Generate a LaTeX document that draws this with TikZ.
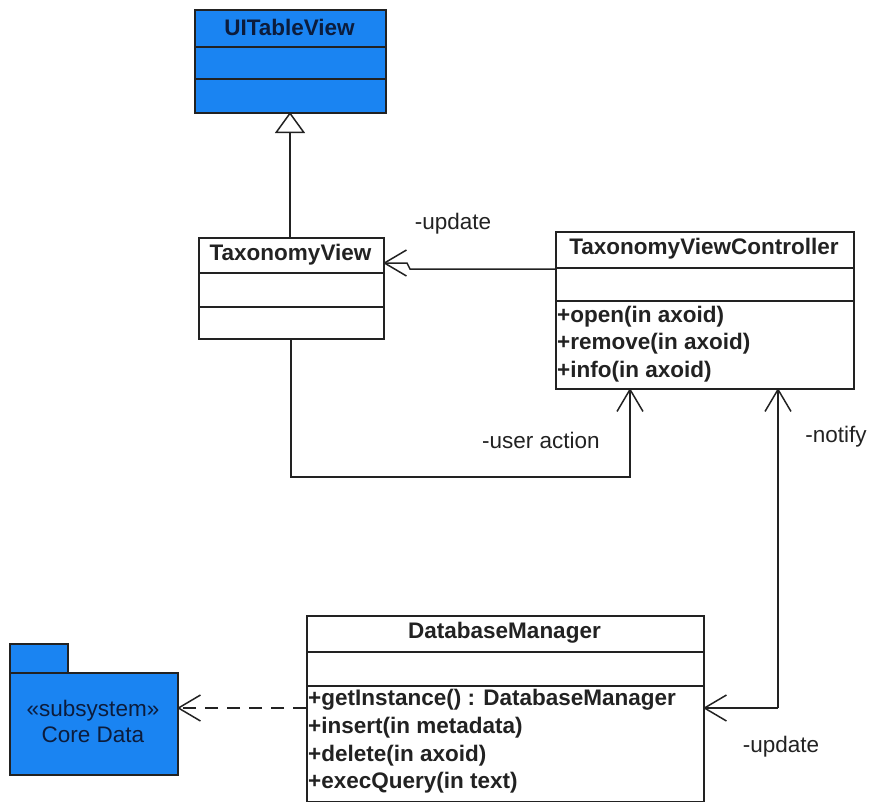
\documentclass[tikz,border=0pt]{standalone}
\usepackage{fontspec}
\setmainfont{Liberation Sans}
\usetikzlibrary{arrows.meta,calc}
\definecolor{umlblue}{RGB}{26,132,242}
\definecolor{ink}{RGB}{34,34,34}
\definecolor{navy}{RGB}{12,28,60}
\begin{document}
\begin{tikzpicture}[x=1pt,y=-1pt,
  box/.style={draw=ink,line width=1.5pt,rectangle,inner sep=0pt,anchor=north west},
  bluebox/.style={box,fill=umlblue},
  title/.style={font=\fontsize{22.5}{27}\selectfont\bfseries,text=ink,inner sep=0pt},
  optext/.style={font=\fontsize{22.5}{27}\selectfont\bfseries,text=ink,inner sep=0pt,anchor=west},
  lbl/.style={font=\fontsize{22.5}{27}\selectfont,text=ink,inner sep=0pt},
  conn/.style={draw=ink,line width=1.5pt},
  barb/.style={-{Straight Barb[length=22pt,width=26pt,line width=1.5pt]}},
  inherit/.style={-{Triangle[open,length=21pt,width=30pt,line width=1.5pt,fill=white]}}
]
\useasboundingbox (0,0) rectangle (870,801);

% UITableView
\node[bluebox,minimum width=191pt,minimum height=103pt] (uit) at (194,9) {};
\draw[ink,line width=1.5pt] (194,47) -- (385,47) (194,79) -- (385,79);
\node[title,text=navy] (uitname) at (289.5,27) {UITableView};

% TaxonomyView
\node[box,minimum width=185pt,minimum height=101pt] (tv) at (198,237) {};
\draw[ink,line width=1.5pt] (198,273) -- (383,273) (198,307) -- (383,307);
\node[title] (tvname) at (290.5,255) {TaxonomyView};

% TaxonomyViewController
\node[box,minimum width=298pt,minimum height=157pt] (tvc) at (555,231) {};
\draw[ink,line width=1.5pt] (555,268) -- (853,268) (555,301) -- (853,301);
\node[title] (tvcname) at (704,249) {TaxonomyViewController};
\node[optext] (op1) at (557,317) {+open(in axoid)};
\node[optext] (op2) at (557,344) {+remove(in axoid)};
\node[optext] (op3) at (557,372) {+info(in axoid)};

% DatabaseManager
\node[box,minimum width=397pt,minimum height=186pt] (db) at (306,615) {};
\draw[ink,line width=1.5pt] (306,652) -- (703,652) (306,686) -- (703,686);
\node[title] (dbname) at (504.5,633) {DatabaseManager};
\node[optext] (dop1) at (308,700) {+getInstance() : DatabaseManager};
\node[optext] (dop2) at (308,728) {+insert(in metadata)};
\node[optext] (dop3) at (308,756) {+delete(in axoid)};
\node[optext] (dop4) at (308,783) {+execQuery(in text)};

% Core Data package
\node[bluebox,minimum width=58pt,minimum height=29pt] (tab) at (9,643) {};
\node[bluebox,minimum width=168pt,minimum height=102pt] (pkg) at (9,672) {};
\node[lbl,text=navy,align=center,font=\fontsize{22.5}{26}\selectfont] (pkgtext) at (93,721) {«subsystem»\\Core Data};

% connectors
\coordinate (tvtop) at (290,237);
\coordinate (uitbot) at (290,112);
\draw[conn,inherit] (tvtop) -- (uitbot);

\coordinate (updstart) at (555,269);
\coordinate (updbend1) at (410,269);
\coordinate (updbend2) at (407,263);
\coordinate (updend) at (383,263);
\draw[conn,barb] (updstart) -- (updbend1) -- (updbend2) -- (updend);
\node[lbl] (updlbl) at (453,224) {-update};

\coordinate (tvbot) at (291,338);
\coordinate (uacorner1) at (291,477);
\coordinate (uacorner2) at (630,477);
\coordinate (uaend) at (630,388);
\draw[conn,barb] (tvbot) -- (uacorner1) -- (uacorner2) -- (uaend);
\node[lbl] (ualbl) at (541,440) {-user action};

\coordinate (ntop) at (778,388);
\coordinate (ncorner) at (778,708);
\coordinate (nright) at (703,708);
\draw[conn,barb] (ncorner) -- (ntop);
\draw[conn,barb] (ncorner) -- (nright);
\node[lbl] (nlbl) at (836,437) {-notify};
\node[lbl] (dbupdlbl) at (781,747) {-update};

\coordinate (dashstart) at (306,708);
\coordinate (dashend) at (177,708);
\draw[conn,barb,dash pattern=on 13pt off 9pt] (dashstart) -- (dashend);
\end{tikzpicture}
\end{document}
